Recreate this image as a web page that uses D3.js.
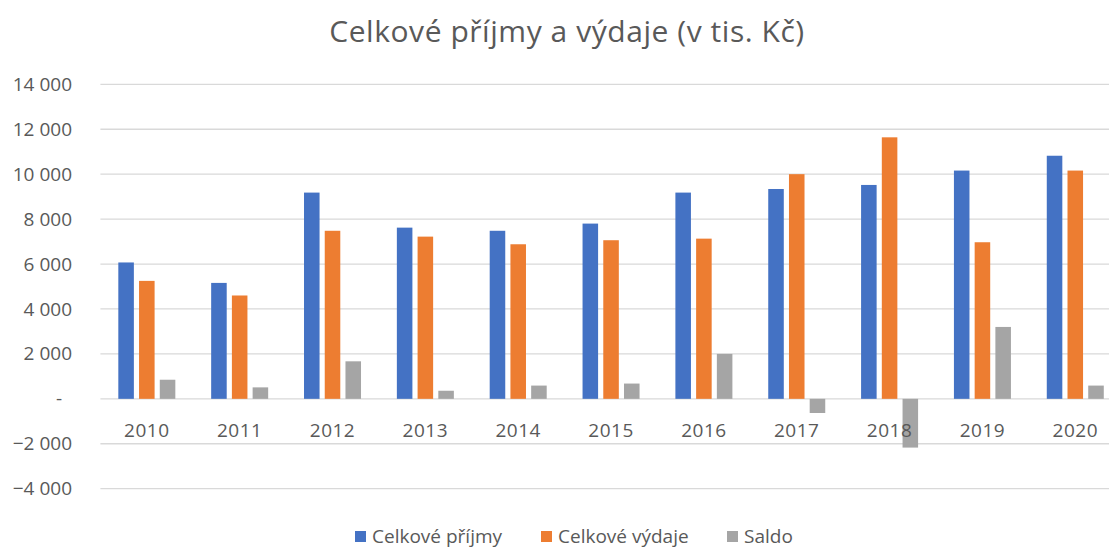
<!DOCTYPE html>
<html>
<head>
<meta charset="utf-8">
<script src="https://cdn.jsdelivr.net/npm/d3@7"></script>
<style>
  html, body { margin: 0; padding: 0; background: #fff; }
  svg { display: block; }
  text { font-family: "Open Sans", "Noto Sans", sans-serif; fill: #595959; }
</style>
</head>
<body>
<svg id="chart" width="1109" height="547"></svg>
<script>
// Yearly totals in thousands of CZK
const years = ["2010","2011","2012","2013","2014","2015","2016","2017","2018","2019","2020"];
const prijmy = [6070, 5160, 9180, 7620, 7480, 7800, 9180, 9340, 9520, 10160, 10820];
const vydaje = [5250, 4600, 7480, 7220, 6880, 7060, 7130, 10000, 11640, 6970, 10160];
const saldo  = [850, 510, 1670, 360, 590, 680, 2000, -630, -2170, 3200, 590];

const seriesNames = ["Celkové příjmy", "Celkové výdaje", "Saldo"];
const seriesColors = ["#4472C4", "#ED7D31", "#A5A5A5"];
const yTicks = [-4000, -2000, 0, 2000, 4000, 6000, 8000, 10000, 12000, 14000];
const titleText = "Celkové příjmy a výdaje (v tis. Kč)";

const seriesValues = [prijmy, vydaje, saldo];
const rows = years.map((y, i) => ({
  year: y,
  values: seriesNames.map((name, s) => ({ name, value: seriesValues[s][i], color: seriesColors[s] }))
}));

const svg = d3.select("#chart");

const plotLeft = 100.4, plotRight = 1121.7;
const x0 = d3.scaleBand().domain(years).range([plotLeft, plotRight])
  .paddingInner(0.386).paddingOuter(0.193);
const x1 = d3.scaleBand().domain(seriesNames).range([0, x0.bandwidth()]).paddingInner(0.25);
const y = d3.scaleLinear().domain([-4000, 14000]).range([488.7, 84.3]);

const fmt = v => v === 0 ? "-" : d3.format(",")(v).replace(/,/g, " ");

// horizontal gridlines
svg.append("g")
  .selectAll("line")
  .data(yTicks)
  .join("line")
  .attr("x1", plotLeft).attr("x2", plotRight)
  .attr("y1", d => y(d)).attr("y2", d => y(d))
  .attr("stroke", "#D9D9D9").attr("stroke-width", 1.3);

// value axis labels
const yAxis = d3.axisLeft(y).tickValues(yTicks).tickFormat(fmt).tickSize(0).tickPadding(0);
const yg = svg.append("g").attr("transform", "translate(72,0)").call(yAxis);
yg.select(".domain").remove();
yg.selectAll("text")
  .attr("font-size", 19)
  .attr("font-family", null)
  .attr("fill", "#595959")
  .attr("dx", d => d === 0 ? -10 : 0);

// grouped bars
const groups = svg.append("g")
  .selectAll("g")
  .data(rows)
  .join("g")
  .attr("transform", d => `translate(${x0(d.year)},0)`);

groups.selectAll("rect")
  .data(d => d.values)
  .join("rect")
  .attr("x", d => x1(d.name))
  .attr("width", x1.bandwidth())
  .attr("y", d => y(Math.max(0, d.value)))
  .attr("height", d => Math.abs(y(d.value) - y(0)))
  .attr("fill", d => d.color);

// category labels below the zero line
const xAxis = d3.axisBottom(x0).tickSize(0).tickPadding(0);
const xg = svg.append("g").attr("transform", `translate(0,${y(0)})`).call(xAxis);
xg.select(".domain").remove();
xg.selectAll("text")
  .attr("font-size", 19)
  .attr("font-family", null)
  .attr("fill", "#595959")
  .attr("dy", 0)
  .attr("y", 38)
  .style("letter-spacing", "0.5px");

// title
svg.append("text")
  .attr("x", 567).attr("y", 42)
  .attr("text-anchor", "middle")
  .attr("font-size", 30)
  .style("letter-spacing", "0.55px")
  .text(titleText);

// legend
const legendX = [355, 541, 727];
const legend = svg.append("g")
  .selectAll("g")
  .data(seriesNames)
  .join("g")
  .attr("transform", (d, i) => `translate(${legendX[i]},531)`);
legend.append("rect")
  .attr("width", 11).attr("height", 11)
  .attr("fill", (d, i) => seriesColors[i]);
legend.append("text")
  .attr("x", 17).attr("y", 11.5)
  .attr("font-size", 19)
  .text(d => d);
</script>
</body>
</html>
